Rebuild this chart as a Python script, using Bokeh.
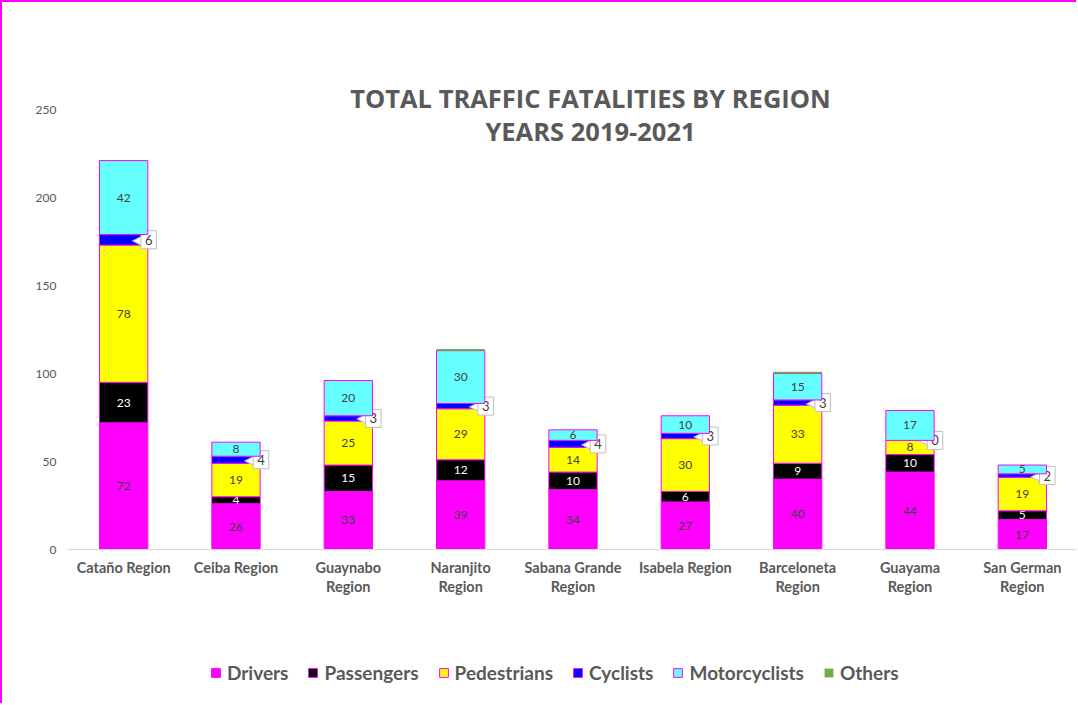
from bokeh.plotting import figure
from bokeh.models import ColumnDataSource, Label, Range1d, FactorRange, Legend, Span
from bokeh.core.properties import value
from bokeh.embed import file_html
from bokeh.resources import INLINE

regions = ["Cataño Region", "Ceiba Region", "Guaynabo Region", "Naranjito Region",
           "Sabana Grande Region", "Isabela Region", "Barceloneta Region",
           "Guayama Region", "San German Region"]
tick_labels = ["Cataño Region", "Ceiba Region", "Guaynabo\nRegion", "Naranjito\nRegion",
               "Sabana Grande\nRegion", "Isabela Region", "Barceloneta\nRegion",
               "Guayama\nRegion", "San German\nRegion"]
drivers = [72, 26, 33, 39, 34, 27, 40, 44, 17]
passengers = [23, 4, 15, 12, 10, 6, 9, 10, 5]
pedestrians = [78, 19, 25, 29, 14, 30, 33, 8, 19]
cyclists = [6, 4, 3, 3, 4, 3, 3, 0, 2]
motorcyclists = [42, 8, 20, 30, 6, 10, 15, 17, 5]
others = [0, 0, 0, 1, 0, 0, 1, 0, 0]
y_ticks = [0, 50, 100, 150, 200, 250]

series = ["Drivers", "Passengers", "Pedestrians", "Cyclists", "Motorcyclists", "Others"]
colors = ["#FF00FF", "#000000", "#FFFF00", "#0000FF", "#66FFFF", "#70AD47"]
values = [drivers, passengers, pedestrians, cyclists, motorcyclists, others]

p = figure(x_range=FactorRange(*regions, range_padding=0), y_range=Range1d(-85.8, 300.6),
           width=1076, height=703, output_backend="svg", toolbar_location=None,
           x_axis_location=None,
           min_border_left=65, min_border_right=0, min_border_top=18, min_border_bottom=5)
p.outline_line_color = None
p.grid.grid_line_color = None
p.styles = {"border-top": "2px solid #FF00FF", "border-left": "2px solid #FF00FF"}

p.add_layout(Span(location=0, dimension="width", line_color="#D9D9D9", line_width=1))

renderers = []
bottoms = [0] * len(regions)
for s, v, c in zip(series, values, colors):
    tops = [b + x for b, x in zip(bottoms, v)]
    lc = None if s == "Others" else "#FF00FF"
    r = p.vbar(x=regions, bottom=bottoms, top=tops, width=0.43, fill_color=c,
               line_color=lc, line_width=1)
    renderers.append((s, r))
    mids = [(b + t) / 2 for b, t in zip(bottoms, tops)]
    if s in ("Drivers", "Passengers", "Pedestrians", "Motorcyclists"):
        ls = ColumnDataSource(dict(x=regions, y=mids, t=[str(x) for x in v]))
        p.text(x="x", y="y", text="t", source=ls, text_align="center",
               text_baseline="middle", text_font_size="12px", text_font=value("Lato"),
               text_color="#FFFFFF" if s == "Passengers" else "#404040")
    if s == "Cyclists":
        cs = ColumnDataSource(dict(x=regions, y=mids, t=[str(x) for x in v]))
        p.text(x="x", y="y", text=value("◀"), source=cs, text_align="right",
               text_baseline="middle", text_font_size="12px",
               text_color="#FFFFFF", text_outline_color="#BFBFBF",
               x_offset=18, text_font=value("DejaVu Sans"))
        p.text(x="x", y="y", text="t", source=cs, text_align="center",
               text_baseline="middle", text_font_size="13px",
               text_font=value("Lato"), text_color="#404040", x_offset=25,
               background_fill_color="#FFFFFF",
               border_line_color="#BFBFBF", border_line_width=1, padding=4)
    bottoms = tops

# category labels under the baseline
xs = ColumnDataSource(dict(x=regions, y=[0] * len(regions), t=tick_labels))
p.text(x="x", y="y", text="t", source=xs, text_align="center", text_baseline="top",
       y_offset=9, text_font=value("Lato"), text_font_style="bold",
       text_font_size="14.5px", text_color="#595959", text_line_height=1.12)

p.yaxis.axis_line_color = None
p.yaxis.major_tick_line_color = None
p.yaxis.minor_tick_line_color = None
p.yaxis.major_tick_out = 0
p.yaxis.major_tick_in = 0
p.yaxis.major_label_text_color = "#595959"
p.yaxis.major_label_text_font_size = "12px"
p.yaxis.major_label_text_font = "Lato"
p.yaxis.major_label_standoff = 11
p.yaxis.ticker = y_ticks

p.add_layout(Label(x=590 - 67, y=700 - 97, x_units="screen", y_units="screen",
                   text="TOTAL TRAFFIC FATALITIES BY REGION", text_align="center",
                   text_baseline="middle", text_font="Open Sans", text_font_style="bold",
                   text_font_size="25.5px", text_color="#595959"))
p.add_layout(Label(x=590 - 67, y=700 - 130, x_units="screen", y_units="screen",
                   text="YEARS 2019-2021", text_align="center",
                   text_baseline="middle", text_font="Open Sans", text_font_style="bold",
                   text_font_size="25.5px", text_color="#595959"))

legend = Legend(items=[(s, [r]) for s, r in renderers], orientation="horizontal",
                location=(143, 16), border_line_color=None, background_fill_alpha=0,
                label_text_font="Lato", label_text_font_style="bold",
                label_text_font_size="19px", label_text_color="#595959",
                glyph_width=11, glyph_height=11, spacing=19, label_standoff=6,
                padding=0, margin=0)
p.add_layout(legend, "center")

open("out.html", "w").write(file_html(p, INLINE))
